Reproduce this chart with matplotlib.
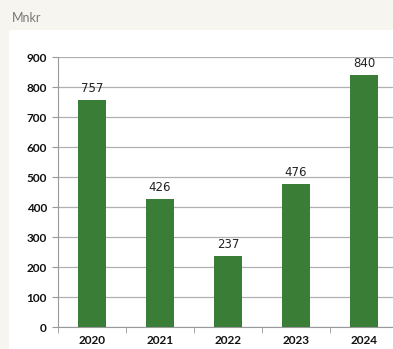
import matplotlib.pyplot as plt
from matplotlib.patches import Rectangle

years = ['2020', '2021', '2022', '2023', '2024']
values = [757, 426, 237, 476, 840]

fig = plt.figure(figsize=(3.93, 3.49), dpi=100)
fig.patch.set_facecolor('#f6f5f0')

# white panel behind the chart
fig.patches.append(Rectangle((9/393, 0), 1 - 9/393, 1 - 30/349,
                             transform=fig.transFigure, facecolor='white',
                             edgecolor='none', zorder=0))

fig.text(12/393, 1 - 18/349, 'Mnkr', fontsize=9, color='#777777',
         family='Lato', va='center', ha='left')

ax = fig.add_axes([58/393, 1 - 327/349, 340/393, (327 - 57)/349])
ax.set_facecolor('white')
ax.set_zorder(1)

x = range(len(years))
bars = ax.bar(x, values, width=0.4, color='#3a7d37', zorder=3)
for xi, v in zip(x, values):
    ax.text(xi, v + 16, str(v), ha='center', va='bottom', fontsize=8.5,
            color='#222222', family='DejaVu Sans', zorder=4)

ax.set_xlim(-0.5, len(years) - 0.5)
ax.set_ylim(0, 900)
ax.set_yticks(range(0, 901, 100))
ax.grid(axis='y', color='#b0b0b0', linewidth=0.9, zorder=0)
ax.set_xticks(x)
ax.set_xticklabels(years)
ax.set_xticks([i - 0.5 for i in range(len(years) + 1)], minor=True)
ax.tick_params(axis='x', which='major', length=0, pad=6)
ax.tick_params(axis='x', which='minor', length=4, color='#999999')
ax.tick_params(axis='y', length=4, color='#999999', pad=4)
for lab in ax.get_xticklabels() + ax.get_yticklabels():
    lab.set_fontsize(8.5)
    lab.set_fontweight('bold')
    lab.set_family('Lato')
    lab.set_color('#111111')

for s in ['top', 'right']:
    ax.spines[s].set_visible(False)
ax.spines['left'].set_color('#999999')
ax.spines['bottom'].set_color('#999999')

fig.savefig('out.png', dpi=100, facecolor=fig.get_facecolor())
